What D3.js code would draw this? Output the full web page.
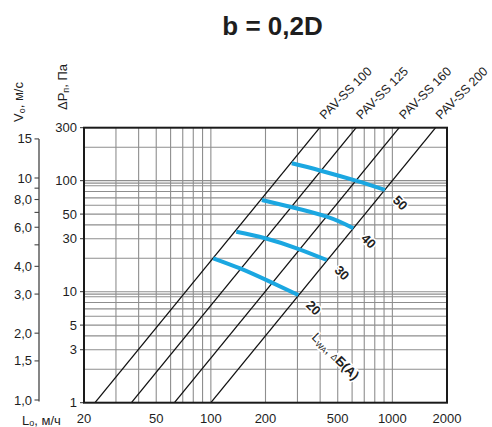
<!DOCTYPE html>
<html><head><meta charset="utf-8">
<script src="https://cdn.jsdelivr.net/npm/d3@7/dist/d3.min.js"></script>
<style>
body{margin:0;background:#fff;}
svg{display:block;font-family:"Liberation Sans",Arial,sans-serif;}
</style></head>
<body>
<svg id="c" width="492" height="427"></svg>
<script>
// ---------- data ----------
const title = "b = 0,2D";
const xTicks = [20, 50, 100, 200, 500, 1000, 2000];
const xGrid = [30, 40, 50, 60, 70, 80, 90, 100, 200, 300, 400, 500, 600, 700, 800, 900, 1000];
const yTicks = [1, 3, 5, 10, 30, 50, 100, 300];
const yGrid = [2, 3, 4, 5, 6, 7, 8, 9, 9.5, 10, 20, 30, 40, 50, 60, 70, 80, 90, 95, 100, 200];
const vTicks = [1, 1.5, 2, 3, 4, 5, 6, 7, 8, 9, 10, 15];
const vLabels = ["1,0", "1,5", "2,0", "3,0", "4,0", "", "6,0", "", "8,0", "", "10", "15"];

const models = ["PAV-SS 100", "PAV-SS 125", "PAV-SS 160", "PAV-SS 200"];
const modelFlowAt1Pa = [23, 36.5, 63, 100];        // m3/h at ΔP = 1 Pa
const modelFlowAt300Pa = [398, 632, 1091, 1732];   // m3/h at ΔP = 300 Pa

const noiseLevels = ["20", "30", "40", "50"];
const noiseFlow = [
  [103, 145, 207, 303],
  [138, 199, 297, 435],
  [191, 273, 435, 609],
  [279, 399, 636, 910]
];
const noisePressure = [
  [20.0, 16.2, 12.5, 9.34],
  [34.7, 30.3, 24.6, 19.3],
  [67.0, 58.3, 47.4, 37.3],
  [143.5, 123.6, 99.4, 82.4]
];

// ---------- layout ----------
const L = 84, R = 447, T = 127.7, B = 402.7;
const svg = d3.select("#c");
const x = d3.scaleLog().domain([20, 2000]).range([L, R]);
const y = d3.scaleLog().domain([1, 300]).range([B, T]);
const v = d3.scaleLog().domain([1, 10]).range([400, 178]);

const gridColor = "#8e8e8e", textColor = "#1e1e1e";

// title
svg.append("text").attr("x", 272.5).attr("y", 35).attr("text-anchor", "middle")
  .attr("font-size", 26).attr("font-weight", "bold").attr("fill", textColor).text(title);

// grid
const g = svg.append("g");
g.selectAll(".vg").data(xGrid).join("line")
  .attr("x1", d => x(d)).attr("x2", d => x(d)).attr("y1", T).attr("y2", B)
  .attr("stroke", gridColor).attr("stroke-width", 1.1);
g.selectAll(".hg").data(yGrid).join("line")
  .attr("x1", L).attr("x2", R).attr("y1", d => y(d)).attr("y2", d => y(d))
  .attr("stroke", gridColor).attr("stroke-width", 1.1);

// ΔP ticks and labels
g.selectAll(".yt").data(yTicks).join("line")
  .attr("x1", L - 4).attr("x2", L).attr("y1", d => y(d)).attr("y2", d => y(d))
  .attr("stroke", "#333").attr("stroke-width", 1);
svg.selectAll(".yl").data(yTicks).join("text")
  .attr("x", 77).attr("y", d => y(d) + 4.5).attr("text-anchor", "end")
  .attr("font-size", 13).attr("fill", textColor).text(d => d);

// x labels
svg.selectAll(".xl").data(xTicks).join("text")
  .attr("x", d => x(d)).attr("y", 423).attr("text-anchor", "middle")
  .attr("font-size", 13).attr("fill", textColor).text(d => d);

// velocity axis
svg.append("line").attr("x1", 39).attr("x2", 39).attr("y1", v(15)).attr("y2", v(1) + 1.5)
  .attr("stroke", "#444").attr("stroke-width", 1.3);
svg.selectAll(".vt").data(vTicks).join("line")
  .attr("x1", 34.5).attr("x2", 39).attr("y1", d => v(d)).attr("y2", d => v(d))
  .attr("stroke", "#444").attr("stroke-width", 1.1);
svg.selectAll(".vl").data(vTicks).join("text")
  .attr("x", 32).attr("y", d => v(d) + 4.5).attr("text-anchor", "end")
  .attr("font-size", 13).attr("fill", textColor).text((d, i) => vLabels[i]);

// axis titles
const vt = svg.append("text").attr("transform", "translate(23,122) rotate(-90)")
  .attr("font-size", 13).attr("fill", textColor);
vt.append("tspan").text("V");
vt.append("tspan").attr("font-size", 9).attr("dy", 2).text("o");
vt.append("tspan").attr("dy", -2).text(", м/с");

const pt = svg.append("text").attr("transform", "translate(67,110) rotate(-90)")
  .attr("font-size", 13).attr("fill", textColor);
pt.append("tspan").text("ΔP");
pt.append("tspan").attr("font-size", 9).attr("dy", 2).text("п");
pt.append("tspan").attr("dy", -2).text(", Па");

const lt = svg.append("text").attr("x", 22).attr("y", 425)
  .attr("font-size", 13).attr("fill", textColor);
lt.append("tspan").text("L");
lt.append("tspan").attr("font-size", 9).attr("dy", 1).text("o");
lt.append("tspan").attr("dy", -1).text(", м/ч");

// model lines
models.forEach((m, i) => {
  svg.append("line")
    .attr("x1", x(modelFlowAt1Pa[i])).attr("y1", y(1))
    .attr("x2", x(modelFlowAt300Pa[i])).attr("y2", y(300))
    .attr("stroke", "#111").attr("stroke-width", 1.3);
  svg.append("text")
    .attr("transform", `translate(${x(modelFlowAt300Pa[i]) + 5},120) rotate(-45)`)
    .attr("font-size", 12.5).attr("fill", textColor).text(m);
});

// noise curves
const line = d3.line().x(d => x(d[0])).y(d => y(d[1])).curve(d3.curveNatural);
noiseLevels.forEach((lv, i) => {
  const pts = noiseFlow[i].map((f, j) => [f, noisePressure[i][j]]);
  svg.append("path").attr("d", line(pts)).attr("fill", "none")
    .attr("stroke", "#1ba7e1").attr("stroke-width", 4);
  const end = pts[pts.length - 1];
  svg.append("text")
    .attr("transform", `translate(${x(end[0]) + 7},${y(end[1]) + 11}) rotate(45)`)
    .attr("font-size", 13).attr("font-weight", "bold").attr("fill", textColor)
    .attr("stroke", "#fff").attr("stroke-width", 3).attr("paint-order", "stroke")
    .text(lv);
});

// Lwa label
const lw = svg.append("text").attr("transform", "translate(311,338) rotate(45)")
  .attr("font-size", 13).attr("fill", textColor)
  .attr("stroke", "#fff").attr("stroke-width", 3).attr("paint-order", "stroke");
lw.append("tspan").text("L");
lw.append("tspan").attr("font-size", 8).attr("dy", 2).text("WA");
lw.append("tspan").attr("dy", -2).text(", ");
lw.append("tspan").attr("font-size", 9).text("Δ");
lw.append("tspan").attr("font-weight", "bold").text("Б(A)");

// plot border
svg.append("rect").attr("x", L).attr("y", T).attr("width", R - L).attr("height", B - T)
  .attr("fill", "none").attr("stroke", "#1a1a1a").attr("stroke-width", 2);
</script>
</body></html>
